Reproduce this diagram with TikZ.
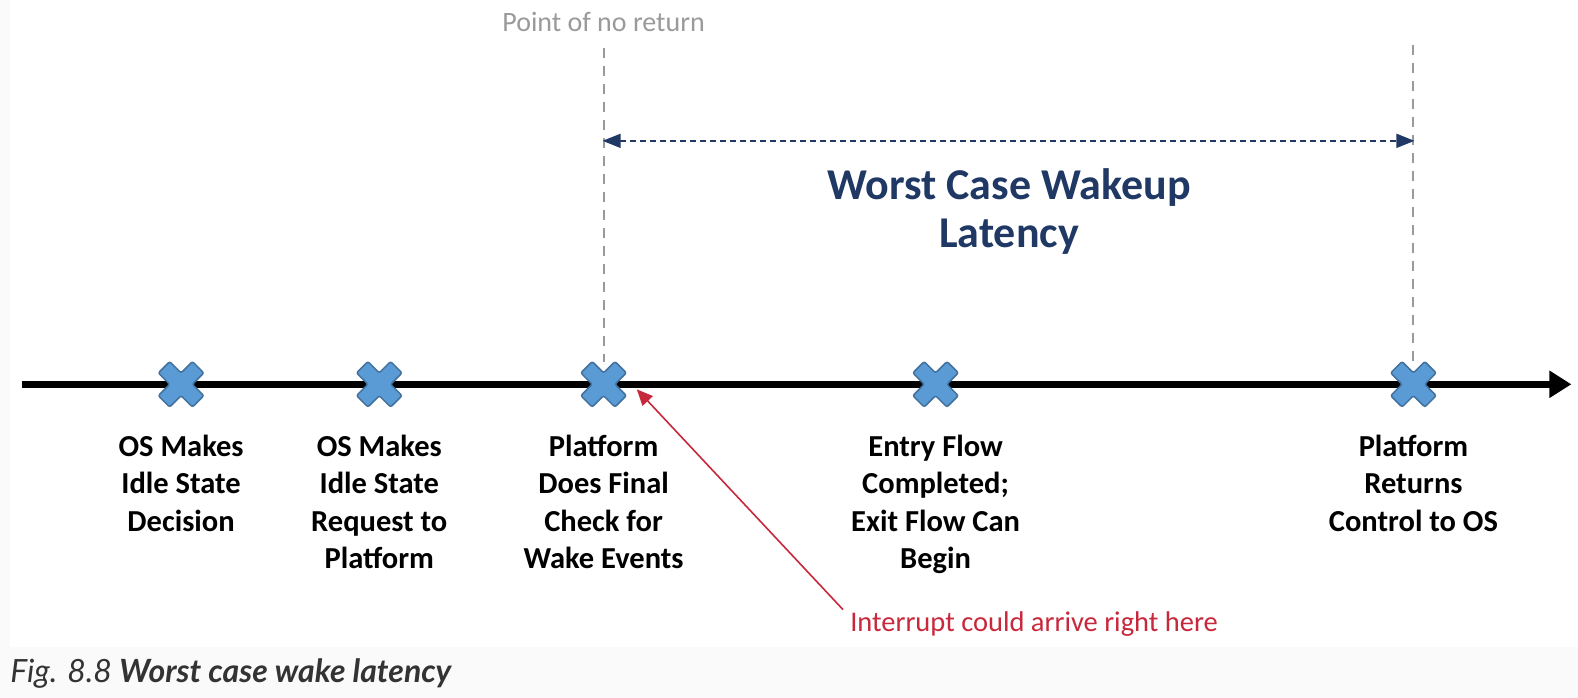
\documentclass[tikz,border=0pt]{standalone}
\usepackage{fontspec}
\setmainfont{Carlito}
\newfontfamily\latofont{Lato}
\usetikzlibrary{arrows.meta}
\definecolor{xblue}{HTML}{5B9BD5}
\definecolor{xblueedge}{HTML}{41719C}
\definecolor{navy}{HTML}{1F3864}
\definecolor{guide}{HTML}{9A9A9A}
\definecolor{redline}{HTML}{C8283C}
\definecolor{pagebg}{HTML}{FAFAFA}
\definecolor{captext}{HTML}{333333}
\tikzset{
  markx/.pic={
    \draw[fill=xblue,draw=xblueedge,line width=1.5pt,rounded corners=2pt,rotate=45]
      (-8,-24) -- (8,-24) -- (8,-8) -- (24,-8) -- (24,8) -- (8,8) -- (8,24)
      -- (-8,24) -- (-8,8) -- (-24,8) -- (-24,-8) -- (-8,-8) -- cycle;
  },
  evlabel/.style={font=\fontsize{30.5}{37.5}\selectfont\bfseries,align=center,anchor=north,inner sep=0pt,text=black},
  guideline/.style={draw=guide,line width=2pt,dash pattern=on 10pt off 8pt},
  spanarrow/.style={draw=navy,line width=1.6pt,dash pattern=on 6pt off 4pt,{Triangle[length=18pt,width=14pt]}-{Triangle[length=18pt,width=14pt]}},
}
\begin{document}
\begin{tikzpicture}[x=1.006pt,y=-1.006pt]
\useasboundingbox (0pt,0pt) rectangle (1578pt,-698pt);
\fill[pagebg] (0pt,0pt) rectangle (1578pt,-698pt);
\fill[white] (10pt,0pt) rectangle (1578pt,-647pt);

% timeline
\coordinate (tstart) at (22,382);
\coordinate (tend) at (1562,382);
\draw[line width=7pt,-{Triangle[length=22pt,width=26pt]}] (tstart) -- (tend);

% event positions
\coordinate (c1) at (180,382);
\coordinate (c2) at (377,382);
\coordinate (c3) at (600,382);
\coordinate (c4) at (930,382);
\coordinate (c5) at (1405,382);

% guide lines
\coordinate (g1top) at (600,48);
\coordinate (g1bot) at (600,360);
\coordinate (g2top) at (1405,45);
\coordinate (g2bot) at (1405,360);
\draw[guideline] (g1top) -- (g1bot);
\draw[guideline] (g2top) -- (g2bot);

\node[font=\fontsize{28}{32}\selectfont,text=guide,anchor=base,inner sep=0pt] (ponr) at (600,31) {Point of no return};

% span arrow
\coordinate (s1) at (599,140);
\coordinate (s2) at (1406,140);
\draw[spanarrow] (s1) -- (s2);

\node[font=\fontsize{44}{48}\selectfont\bfseries,text=navy,align=center,anchor=base,inner sep=0pt] (title) at (1003,246) {Worst Case Wakeup\\Latency};

% crosses
\foreach \c in {c1,c2,c3,c4,c5} { \pic at (\c) {markx}; }

% labels
\node[evlabel] (l1) at (180,432) {OS Makes\\Idle State\\Decision};
\node[evlabel] (l2) at (377,432) {OS Makes\\Idle State\\Request to\\Platform};
\node[evlabel] (l3) at (600,432) {Platform\\Does Final\\Check for\\Wake Events};
\node[evlabel] (l4) at (930,432) {Entry Flow\\Completed;\\Exit Flow Can\\Begin};
\node[evlabel] (l5) at (1405,432) {Platform\\Returns\\Control to OS};

% interrupt
\node[font=\fontsize{28.5}{32}\selectfont,text=redline,anchor=base west,inner sep=0pt] (intr) at (845,628) {Interrupt could arrive right here};
\coordinate (ifrom) at (838,606);
\coordinate (ito) at (633,387);
\draw[draw=redline,line width=1.6pt,-{Triangle[length=16pt,width=14pt]}] (ifrom) -- (ito);

% caption
\node[font=\latofont\fontsize{32}{36}\selectfont\itshape,text=captext,anchor=base west,inner sep=0pt] (cap) at (10,678) {Fig. 8.8 \textbf{Worst case wake latency}};
\end{tikzpicture}
\end{document}
